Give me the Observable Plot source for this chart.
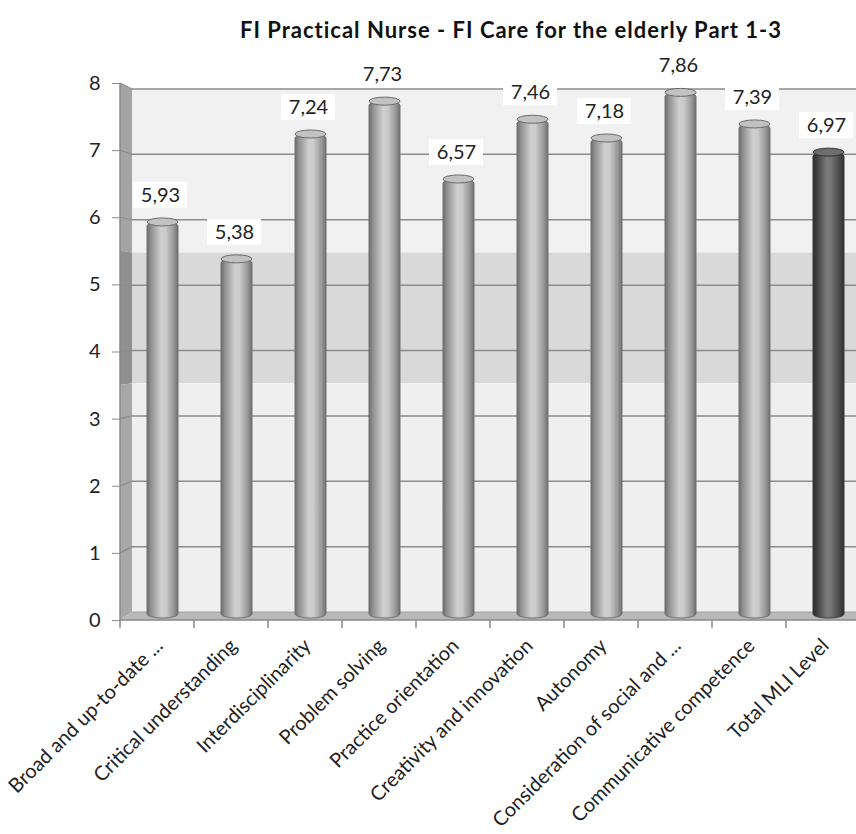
<!DOCTYPE html>
<html>
<head>
<meta charset="utf-8">
<script src="https://cdn.jsdelivr.net/npm/d3@7"></script>
<script src="https://cdn.jsdelivr.net/npm/@observablehq/plot@0.6"></script>
<style>
  body { margin: 0; background: #fff; }
  #title { height: 60px; font: bold 22px Lato, sans-serif; line-height: 60px; letter-spacing: 1px; color: #111; text-align: center; padding-left: 166px; width: 690px; white-space: nowrap; }
</style>
</head>
<body>
<div id="title">FI Practical Nurse - FI Care for the elderly Part 1-3</div>
<div id="chart"></div>
<script>
const categories = [
  "Broad and up-to-date ...",
  "Critical understanding",
  "Interdisciplinarity",
  "Problem solving",
  "Practice orientation",
  "Creativity and innovation",
  "Autonomy",
  "Consideration of social and ...",
  "Communicative competence",
  "Total MLI Level"
];
const values = [5.93, 5.38, 7.24, 7.73, 6.57, 7.46, 7.18, 7.86, 7.39, 6.97];
const yTicks = [0, 1, 2, 3, 4, 5, 6, 7, 8];
const shadedBand = [3.5, 5.5];

const data = categories.map((c, i) => ({category: c, value: values[i], total: i === categories.length - 1}));
const fmt = v => v.toFixed(2).replace(".", ",");

const W = 856, H = 774;
const barInset = 21.5, barShift = 5.5;

const plot = Plot.plot({
  width: W, height: H,
  marginTop: 23, marginBottom: 214, marginLeft: 120, marginRight: 0,
  style: {fontFamily: "Lato, sans-serif", background: "transparent", overflow: "visible"},
  x: {type: "band", domain: categories, range: [120, 860], padding: 0, label: null},
  y: {domain: [0, 8], range: [560, 23], label: null},
  marks: [
    Plot.axisY(yTicks, {tickSize: 8, tickPadding: 12, fontSize: 20, stroke: "#8a8a8a", fill: "#222", tickFormat: d => String(d), label: null}),
    Plot.axisX({tickSize: 0, tickRotate: -45, tickPadding: 22, dx: 2, fontSize: 20, fill: "#222", label: null}),
    // cylinder bodies
    Plot.barY(data.filter(d => !d.total), {x: "category", y: "value", fill: "url(#cyl)", stroke: "#707070", strokeWidth: 1,
      insetLeft: barInset, insetRight: barInset, insetBottom: 2, dx: barShift, rx: 15.5, ry: 4}),
    Plot.barY(data.filter(d => d.total), {x: "category", y: "value", fill: "url(#cylDark)", stroke: "#3a3a3a", strokeWidth: 1,
      insetLeft: barInset, insetRight: barInset, insetBottom: 2, dx: barShift, rx: 15.5, ry: 4}),
    // cylinder caps
    Plot.barY(data, {x: "category", y1: "value", y2: "value", fill: d => d.total ? "#6e6e6e" : "#c2c2c2",
      stroke: d => d.total ? "#333" : "#6a6a6a", strokeWidth: 1,
      insetTop: -4, insetBottom: -4, insetLeft: barInset, insetRight: barInset, dx: barShift, rx: 15.5, ry: 4}),
    // label boxes
    Plot.barY(data, {x: "category", y1: "value", y2: "value", fill: "white",
      insetTop: -40, insetBottom: 14, insetLeft: 13, insetRight: 7}),
    Plot.text(data, {x: "category", y: "value", text: d => fmt(d.value), dy: -27, dx: 3, fontSize: 20, fill: "#222"})
  ]
});

document.getElementById("chart").appendChild(plot);

// decorations (3D walls) from the plot's own scales
const svg = d3.select(plot);
const xs = plot.scale("x"), ys = plot.scale("y");
const fy = v => ys.apply(v);
const k = 0.974, cy = fy(4.57);
const by = v => cy + (fy(v) - cy) * k;   // back-wall projection
const depthX = 12;
const x0 = xs.apply(categories[0]);
const xBack = x0 + depthX;
const xEnd = W + 10;

const defs = svg.append("defs");
function grad(id, stops) {
  const g = defs.append("linearGradient").attr("id", id).attr("x1", 0).attr("x2", 1).attr("y1", 0).attr("y2", 0);
  stops.forEach(([o, c]) => g.append("stop").attr("offset", o).attr("stop-color", c));
}
grad("cyl", [[0, "#6c6c6c"], [0.12, "#8e8e8e"], [0.45, "#cfcfcf"], [0.6, "#cbcbcb"], [0.85, "#9a9a9a"], [1, "#707070"]]);
grad("cylDark", [[0, "#2c2c2c"], [0.15, "#444"], [0.45, "#7c7c7c"], [0.6, "#727272"], [0.85, "#4a4a4a"], [1, "#2e2e2e"]]);

const bg = svg.insert("g", "g").attr("class", "walls");
const poly = (pts, fill) => bg.append("polygon").attr("points", pts.map(p => p.join(",")).join(" ")).attr("fill", fill);

// back wall regions
const regions = [[shadedBand[1], 8, "#f1f1f1"], [shadedBand[0], shadedBand[1], "#d9d9d9"], [0, shadedBand[0], "#efefef"]];
regions.forEach(([a, b, c]) => poly([[xBack, by(b)], [xEnd, by(b)], [xEnd, by(a)], [xBack, by(a)]], c));
// side wall regions
const sideCols = ["#a4a4a4", "#8f8f8f", "#a8a8a8"];
regions.forEach(([a, b], i) => poly([[x0, fy(b)], [xBack, by(b)], [xBack, by(a)], [x0, fy(a)]], sideCols[i]));
// floor
poly([[x0, fy(0)], [xBack, by(0)], [xEnd, by(0)], [xEnd, fy(0)]], "#b9b9b9");

// gridlines on back wall + diagonal on side wall
yTicks.filter(v => v > 0).forEach(v => {
  bg.append("line").attr("x1", xBack).attr("x2", xEnd).attr("y1", by(v)).attr("y2", by(v))
    .attr("stroke", "#8c8c8c").attr("stroke-width", 1.5);
  bg.append("line").attr("x1", x0).attr("x2", xBack).attr("y1", fy(v)).attr("y2", by(v))
    .attr("stroke", "#8c8c8c").attr("stroke-width", 1.2);
});
bg.append("line").attr("x1", xBack).attr("x2", xEnd).attr("y1", by(0)).attr("y2", by(0)).attr("stroke", "#a0a0a0").attr("stroke-width", 1);
// front axis lines
bg.append("line").attr("x1", x0).attr("x2", x0).attr("y1", fy(8)).attr("y2", fy(0)).attr("stroke", "#8a8a8a").attr("stroke-width", 1.5);
bg.append("line").attr("x1", x0).attr("x2", xEnd).attr("y1", fy(0)).attr("y2", fy(0)).attr("stroke", "#8a8a8a").attr("stroke-width", 1.5);
// category boundary ticks
categories.forEach(c => {
  const x = xs.apply(c);
  bg.append("line").attr("x1", x).attr("x2", x).attr("y1", fy(0)).attr("y2", fy(0) + 8).attr("stroke", "#8a8a8a").attr("stroke-width", 1.5);
});
</script>
</body>
</html>
